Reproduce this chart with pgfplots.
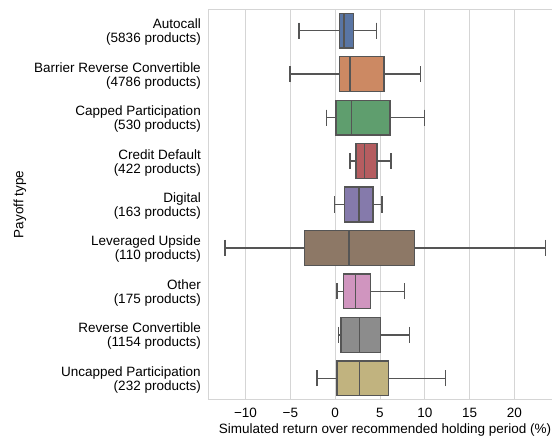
\documentclass[border=0pt]{standalone}
\usepackage{fontspec}
\setmainfont{Liberation Sans}
\usepackage{pgfplots}
\pgfplotsset{compat=1.18}
\usepgfplotslibrary{statistics}
\usetikzlibrary{calc}
\definecolor{cA}{HTML}{5975A4}
\definecolor{cB}{HTML}{CC8963}
\definecolor{cC}{HTML}{5F9E6E}
\definecolor{cD}{HTML}{B55D60}
\definecolor{cE}{HTML}{857AAB}
\definecolor{cF}{HTML}{8D7866}
\definecolor{cG}{HTML}{D095BF}
\definecolor{cH}{HTML}{8C8C8C}
\definecolor{cI}{HTML}{C1B37F}
\definecolor{lg}{HTML}{555555}
\definecolor{gridc}{HTML}{D5D5D5}
\begin{document}
\begin{tikzpicture}
\begin{axis}[
  name=ax,
  scale only axis,
  width=352pt, height=391pt,
  xmin=-14.08, xmax=25.2,
  ymin=-0.5, ymax=8.5,
  y dir=reverse,
  axis line style={draw=gridc, line width=1pt},
  xmajorgrids, grid style={draw=gridc, line width=0.9pt},
  major tick length=0pt,
  xtick={-10,-5,0,5,10,15,20},
  xticklabels={−10,−5,0,5,10,15,20},
  ytick={0,1,2,3,4,5,6,7,8},
  yticklabels={{Autocall\\(5836 products)},{Barrier Reverse Convertible\\(4786 products)},{Capped Participation\\(530 products)},{Credit Default\\(422 products)},{Digital\\(163 products)},{Leveraged Upside\\(110 products)},{Other\\(175 products)},{Reverse Convertible\\(1154 products)},{Uncapped Participation\\(232 products)}},
  font={\fontsize{13.5}{14.5}\selectfont},
  xticklabel style={anchor=center, yshift=-13pt, font={\fontsize{13.5}{14.5}\selectfont}},
  yticklabel style={align=right, anchor=east, inner xsep=0pt, xshift=-8pt, yshift=-1.5pt, font={\fontsize{13.5}{14}\selectfont}},
  xlabel={Simulated return over recommended holding period (\%)},
  ylabel={Payoff type},
  x label style={at={(axis description cs:0.5,0)}, anchor=center, yshift=-30pt, font={\fontsize{13.5}{14.5}\selectfont}},
  y label style={at={(axis description cs:0,0.5)}, anchor=center, yshift=189pt, font={\fontsize{13.5}{14.5}\selectfont}},
  boxplot/box extend=0.8,
  boxplot/whisker extend=0.37,
  every axis plot/.append style={draw=lg, line width=1.4pt, solid, mark=none},
]
\addplot[fill=cA, boxplot prepared={lower whisker=-4.05, lower quartile=0.48, median=0.97, upper quartile=2.04, upper whisker=4.58, draw position=0}] coordinates {};
\addplot[fill=cB, boxplot prepared={lower whisker=-5.02, lower quartile=0.48, median=1.67, upper quartile=5.43, upper whisker=9.49, draw position=1}] coordinates {};
\addplot[fill=cC, boxplot prepared={lower whisker=-1.0, lower quartile=0.11, median=1.79, upper quartile=6.1, upper whisker=10.0, draw position=2}] coordinates {};
\addplot[fill=cD, boxplot prepared={lower whisker=1.64, lower quartile=2.34, median=3.27, upper quartile=4.65, upper whisker=6.25, draw position=3}] coordinates {};
\addplot[fill=cE, boxplot prepared={lower whisker=-0.07, lower quartile=1.04, median=2.64, upper quartile=4.2, upper whisker=5.21, draw position=4}] coordinates {};
\addplot[fill=cF, boxplot prepared={lower whisker=-12.28, lower quartile=-3.42, median=1.53, upper quartile=8.85, upper whisker=23.44, draw position=5}] coordinates {};
\addplot[fill=cG, boxplot prepared={lower whisker=0.19, lower quartile=0.93, median=2.27, upper quartile=3.91, upper whisker=7.74, draw position=6}] coordinates {};
\addplot[fill=cH, boxplot prepared={lower whisker=0.37, lower quartile=0.67, median=2.71, upper quartile=5.06, upper whisker=8.29, draw position=7}] coordinates {};
\addplot[fill=cI, boxplot prepared={lower whisker=-2.05, lower quartile=0.22, median=2.71, upper quartile=5.95, upper whisker=12.31, draw position=8}] coordinates {};
\end{axis}
\pgfresetboundingbox
\path[use as bounding box] ($(ax.south west)+(-209pt,-38pt)$) rectangle ($(ax.south west)+(343pt,400pt)$);
\end{tikzpicture}
\end{document}
